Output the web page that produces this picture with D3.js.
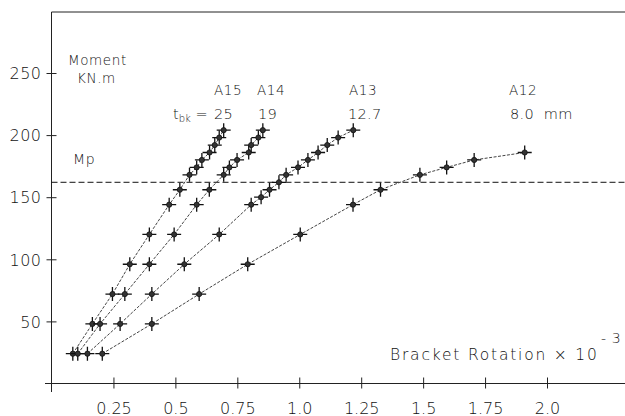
<!DOCTYPE html>
<html>
<head>
<meta charset="utf-8">
<script src="https://cdn.jsdelivr.net/npm/d3@7"></script>
<style>
  body { margin: 0; background: #fff; }
  text { font-family: "DejaVu Sans", sans-serif; font-weight: 200; fill: #111; }
</style>
</head>
<body>
<script>
// moment (kN.m) vs bracket rotation (x 10^-3)
let momA15 = [24, 48, 72, 96, 120, 144, 156, 168, 174, 180, 186, 192, 198, 204]
let rotA15 = [0.086, 0.165, 0.246, 0.316, 0.395, 0.475, 0.518, 0.557, 0.586, 0.607, 0.638, 0.659, 0.677, 0.695]

let momA14 = [24, 48, 72, 96, 120, 144, 156, 168, 174, 180, 186, 192, 198, 204]
let rotA14 = [0.106, 0.196, 0.296, 0.395, 0.495, 0.586, 0.637, 0.695, 0.718, 0.749, 0.796, 0.806, 0.835, 0.853]

let momA13 = [24, 48, 72, 96, 120, 144, 150, 156, 162, 168, 174, 180, 186, 192, 198, 204]
let rotA13 = [0.145, 0.277, 0.405, 0.536, 0.677, 0.806, 0.846, 0.880, 0.918, 0.947, 0.995, 1.035, 1.076, 1.113, 1.157, 1.218]

let momA12 = [24, 48, 72, 96, 120, 144, 156, 168, 174, 180, 186]
let rotA12 = [0.205, 0.405, 0.596, 0.792, 1.004, 1.217, 1.328, 1.487, 1.595, 1.706, 1.910]

let mp = 162

let xTicks = [0.25, 0.5, 0.75, 1.0, 1.25, 1.5, 1.75, 2.0]
let xTickLabels = ['0.25', '0.5', '0.75', '1.0', '1.25', '1.5', '1.75', '2.0']
let yTicks = [50, 100, 150, 200, 250]

let series = [
    { name: 'A15', t: '25', rot: rotA15, mom: momA15 },
    { name: 'A14', t: '19', rot: rotA14, mom: momA14 },
    { name: 'A13', t: '12.7', rot: rotA13, mom: momA13 },
    { name: 'A12', t: '8.0\u00a0 mm', rot: rotA12, mom: momA12 }
]

let width = 625, height = 416

let svg = d3.select('body').append('svg')
    .attr('width', width)
    .attr('height', height)

let xScale = d3.scaleLinear()
    .domain([0, 2])
    .range([51.5, 547])

let yScale = d3.scaleLinear()
    .domain([0, 250])
    .range([383.5, 73])

let x0 = xScale(0), y0 = yScale(0)

// frame: left axis, bottom axis, top line
svg.append('line')
    .attr('x1', x0).attr('x2', x0)
    .attr('y1', 12).attr('y2', 392)
    .attr('stroke', '#222')
svg.append('line')
    .attr('x1', 45).attr('x2', width)
    .attr('y1', y0).attr('y2', y0)
    .attr('stroke', '#222')
svg.append('line')
    .attr('x1', x0).attr('x2', width)
    .attr('y1', 12).attr('y2', 12)
    .attr('stroke', '#222')

// y axis
let yAxis = svg.append('g')
    .attr('transform', 'translate(' + x0 + ',0)')
    .call(d3.axisLeft(yScale).tickValues(yTicks).tickSize(5).tickFormat(d3.format('d')))
yAxis.select('.domain').remove()
yAxis.selectAll('.tick line').attr('x1', 5).attr('stroke', '#222')
yAxis.selectAll('.tick text')
    .attr('x', -10)
    .attr('dy', '0.36em')
    .style('font-size', '16px')
    .style('letter-spacing', '0.5px')
    .attr('fill', '#222')

// x axis
let xAxis = svg.append('g')
    .attr('transform', 'translate(0,' + y0 + ')')
    .call(d3.axisBottom(xScale).tickValues(xTicks).tickSize(5)
        .tickFormat(function(d, i) { return xTickLabels[i] }))
xAxis.select('.domain').remove()
xAxis.selectAll('.tick line').attr('y1', -6).attr('stroke', '#222')
xAxis.selectAll('.tick text')
    .attr('y', 30)
    .attr('dy', 0)
    .style('font-size', '16px')
    .attr('fill', '#222')

// Mp line
svg.append('line')
    .attr('x1', x0).attr('x2', width)
    .attr('y1', yScale(mp)).attr('y2', yScale(mp))
    .attr('stroke', '#111')
    .attr('stroke-dasharray', '6,3')

let line = d3.line()
    .x(function(d) { return xScale(d[0]) })
    .y(function(d) { return yScale(d[1]) })

series.forEach(function(s) {
    let pts = s.rot.map(function(r, i) { return [r, s.mom[i]] })

    svg.append('path')
        .datum(pts)
        .attr('d', line)
        .attr('fill', 'none')
        .attr('stroke', '#444')
        .attr('stroke-width', 1)
        .attr('stroke-dasharray', '3,1.5')

    let marks = svg.append('g')
        .selectAll('g')
        .data(pts)
        .enter()
        .append('g')
        .attr('transform', function(d) { return 'translate(' + xScale(d[0]) + ',' + yScale(d[1]) + ')' })
    marks.append('path')
        .attr('d', 'M-7,0H7M0,-7V7')
        .attr('stroke', '#111')
        .attr('stroke-width', 1.3)
    marks.append('circle')
        .attr('r', 2.6)
        .attr('fill', '#333')
        .attr('stroke', '#111')
        .attr('stroke-width', 0.8)
})

// labels
function label(txt, x, y, size, spacing) {
    return svg.append('text')
        .attr('x', x).attr('y', y)
        .style('font-size', size + 'px')
        .style('letter-spacing', (spacing || 0.6) + 'px')
        .text(txt)
}

label('Moment', 68, 65, 13.5)
label('KN.m', 77, 83, 13.5)
label('Mp', 73, 164, 14)

let nameX = [214, 257, 349, 509]
let tX = [214, 258, 348, 510]
series.forEach(function(s, i) {
    label(s.name, nameX[i], 95, 13.5)
    label(s.t, tX[i], 119, 14.5, 0.3)
})

let tbk = svg.append('text')
    .attr('x', 173).attr('y', 119)
    .style('font-size', '14.5px')
tbk.append('tspan').text('t')
tbk.append('tspan').attr('dy', 3).style('font-size', '10px').text('bk')
tbk.append('tspan').attr('dy', -3).text(' =')

label('Bracket Rotation \u00d7 10', 390, 360, 15.5, 1.8)
label('- 3', 601, 343, 14)
</script>
</body>
</html>
